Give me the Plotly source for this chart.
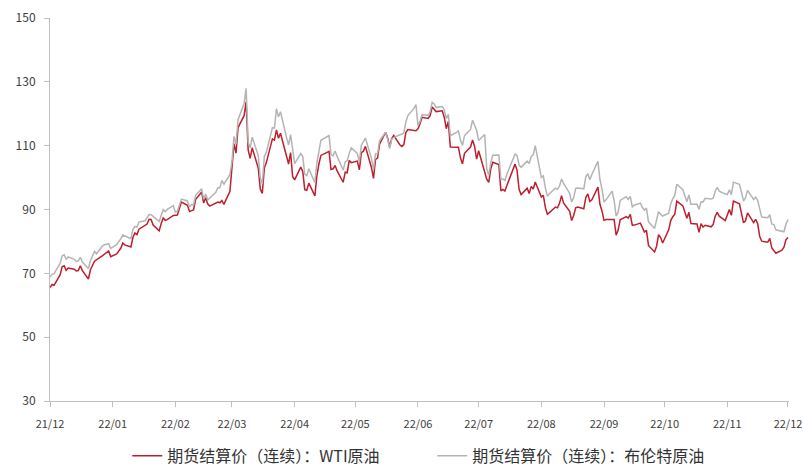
import pandas as pd
import plotly.graph_objects as go

# Business days from 2021-12-01 to 2022-12-01 (None = market closed)
wti_2112 = [65.57, 66.50, 66.26, 69.49, 72.05, 72.36, 70.94, 71.67, 71.29, 70.73, 70.87, 72.38, 70.86,
            68.23, 71.12, 72.76, 73.79, None, 75.57, 75.98, 76.56, 76.99, 75.21]
wti_2201 = [76.08, 76.99, 77.85, 79.46, 78.90, 78.23, 81.22, 82.64, 82.12, 83.82, None, 85.43, 86.96, 86.90,
            85.14, 83.31, 85.60, 87.35, 86.61, 86.82, 88.15]
wti_2202 = [88.20, 88.26, 90.27, 92.31, 91.32, 89.36, 89.66, 89.88, 93.10, 95.46, 92.07, 93.66, 91.76, 91.07,
            None, 92.35, 92.10, 92.81, 91.59, 95.72]
wti_2203 = [103.41, 110.60, 107.67, 115.68, 119.40, 123.70, 108.70, 106.02, 109.33, 103.01, 96.44, 95.04,
            102.98, 104.70, 112.12, 111.76, 114.93, 112.34, 113.90, 105.96, 104.24, 107.82, 100.28]
wti_2204 = [99.27, 103.28, 101.96, 96.23, 96.03, 98.26, 94.29, 100.60, 104.25, 106.95, None, 108.21, 102.56,
            102.75, 103.79, 102.07, 98.54, 101.70, 101.52, 105.36, 104.69]
wti_2205 = [105.17, 102.41, 107.81, 108.26, 109.77, 103.09, 99.76, 105.71, 106.13, 110.49, 114.20, 112.40,
            109.59, 112.21, 113.23, 110.29, 109.77, 110.33, 114.09, 115.07, None, 114.67]
wti_2206 = [115.26, 116.87, 118.87, 118.50, 119.41, 122.11, 121.51, 120.67, 120.93, 118.93, 115.31, 117.59,
            109.56, None, 109.52, 106.19, 104.27, 107.62, 109.57, 111.76, 109.78, 105.76]
wti_2207 = [108.43, None, 99.50, 98.53, 102.73, 104.79, 104.09, 95.84, 96.30, 95.78, 97.59, 102.60, 104.22,
            102.26, 96.35, 94.70, 96.70, 94.98, 97.26, 96.42, 98.62]
wti_2208 = [93.89, 94.42, 90.66, 88.54, 89.01, 90.76, 90.50, 91.93, 94.34, 92.09, 89.41, 86.53, 88.11, 90.50,
            90.77, 90.23, 93.74, 94.89, 92.52, 93.06, 97.01, 91.64, 89.55]
wti_2209 = [86.61, 86.87, None, 86.88, 81.94, 83.54, 86.79, 87.78, 87.31, 88.48, 85.10, 85.11, 85.73, 84.45,
            82.94, 83.49, 78.74, 76.71, 78.50, 82.15, 81.23, 79.49]
wti_2210 = [83.63, 86.52, 87.76, 88.45, 92.64, 91.13, 89.35, 87.27, 89.11, 85.61, 85.46, 82.82, 85.55, 84.51,
            85.05, 84.58, 85.32, 87.91, 89.08, 87.90, 86.53]
wti_2211 = [88.37, 90.00, 88.17, 92.61, 91.79, 88.91, 85.83, 86.47, 88.96, 85.87, 86.92, 85.59, 81.64, 80.08,
            79.73, 80.95, 77.94, None, 76.28, 77.24, 78.20, 80.55]
wti_2212 = [81.22]

brent_2112 = [68.87, 69.67, 69.88, 73.08, 75.44, 75.82, 74.42, 75.15, 74.39, 73.70, 73.88, 75.02, 73.52,
              71.52, 73.98, 75.29, 76.85, 76.14, 78.60, 78.94, 79.23, 79.32, 77.78]
brent_2201 = [78.98, 80.00, 80.80, 81.99, 81.75, 80.87, 83.72, 84.67, 84.47, 86.06, 86.48, 87.51, 88.44, 88.38,
              87.89, 86.27, 88.20, 89.96, 89.34, 90.03, 91.21]
brent_2202 = [89.16, 89.47, 91.11, 93.27, 92.69, 90.78, 91.55, 91.41, 94.44, 96.48, 93.28, 94.81, 92.97, 93.54,
              95.39, 96.84, 96.84, 99.08, 97.93, 100.99]
brent_2203 = [104.97, 112.93, 110.46, 118.11, 123.21, 127.98, 111.14, 109.33, 112.67, 106.90, 99.91, 98.02,
              106.64, 107.93, 115.62, 115.48, 121.60, 119.03, 120.65, 112.48, 110.23, 113.45, 107.91]
brent_2204 = [104.39, 107.53, 106.64, 101.07, 100.58, 102.78, 98.48, 104.64, 108.78, 111.70, None, 113.16,
              107.25, 106.80, 108.33, 106.65, 102.32, 104.99, 105.32, 107.59, 109.34]
brent_2205 = [107.58, 104.97, 110.14, 111.55, 112.39, 105.94, 102.46, 107.51, 107.45, 111.55, 114.24, 111.93,
              109.11, 112.04, 112.55, 113.42, 113.56, 114.03, 117.40, 119.43, 121.67, 122.84]
brent_2206 = [116.29, 117.61, 119.72, 119.51, 120.57, 123.58, 123.07, 122.01, 122.27, 121.17, 118.51, 119.81,
              113.12, 114.13, 114.65, 111.74, 110.05, 113.12, 115.09, 117.98, 116.26, 114.81]
brent_2207 = [111.63, 113.50, 102.77, 100.69, 104.65, 107.02, 107.10, 99.49, 99.57, 99.10, 101.16, 106.27,
              107.35, 106.92, 103.86, 103.20, 105.15, 104.40, 106.62, 107.14, 110.01]
brent_2208 = [100.03, 100.54, 96.78, 94.12, 94.92, 96.65, 96.31, 97.40, 99.60, 98.15, 95.10, 92.34, 93.65,
              96.59, 96.72, 96.48, 100.22, 101.22, 99.34, 100.99, 105.09, 99.31, 96.49]
brent_2209 = [92.36, 93.02, 95.74, 92.83, 88.00, 89.15, 92.84, 94.00, 93.17, 94.10, 90.84, 91.35, 92.00, 90.62,
              89.83, 90.46, 86.15, 84.06, 86.27, 89.32, 88.49, 87.96]
brent_2210 = [88.86, 91.80, 93.37, 94.42, 97.92, 96.19, 94.29, 92.45, 94.57, 91.63, 91.62, 90.03, 92.41, 92.38,
              93.50, 93.26, 93.52, 95.69, 96.96, 95.77, 94.83]
brent_2211 = [94.65, 96.16, 94.67, 98.57, 97.92, 95.36, 92.65, 93.67, 95.99, 93.14, 93.86, 92.86, 89.78, 87.62,
              87.45, 88.36, 85.41, 85.34, 83.63, 83.19, 83.03, 85.43]
brent_2212 = [86.88]

tick_dates = ["2021-12-01", "2022-01-01", "2022-02-01", "2022-03-01", "2022-04-01", "2022-05-01",
              "2022-06-01", "2022-07-01", "2022-08-01", "2022-09-01", "2022-10-01", "2022-11-01",
              "2022-12-01"]
tick_labels = ["21/12", "22/01", "22/02", "22/03", "22/04", "22/05", "22/06", "22/07", "22/08",
               "22/09", "22/10", "22/11", "22/12"]

name_wti = "期货结算价（连续）：WTI原油"
name_brent = "期货结算价（连续）：布伦特原油"

wti = (wti_2112 + wti_2201 + wti_2202 + wti_2203 + wti_2204 + wti_2205 + wti_2206 + wti_2207 +
       wti_2208 + wti_2209 + wti_2210 + wti_2211 + wti_2212)
brent = (brent_2112 + brent_2201 + brent_2202 + brent_2203 + brent_2204 + brent_2205 + brent_2206 +
         brent_2207 + brent_2208 + brent_2209 + brent_2210 + brent_2211 + brent_2212)
dates = list(pd.bdate_range("2021-12-01", "2022-12-01"))
n = min(len(dates), len(wti), len(brent))
dates, wti, brent = dates[:n], wti[:n], brent[:n]

FONT = "Noto Sans CJK SC"
AXIS = "#BFBFBF"

fig = go.Figure()
fig.add_trace(go.Scatter(x=dates, y=wti, mode="lines", name=name_wti, connectgaps=True,
                         line=dict(color="#BE1E2D", width=1.5)))
fig.add_trace(go.Scatter(x=dates, y=brent, mode="lines", name=name_brent, connectgaps=True,
                         line=dict(color="#B4B4B4", width=1.5)))

fig.update_layout(
    width=803, height=469,
    margin=dict(l=50, r=14, t=18, b=68, autoexpand=False),
    paper_bgcolor="white", plot_bgcolor="white",
    font=dict(family=FONT, size=12, color="#333333"),
    showlegend=True,
    legend=dict(orientation="h", xref="container", yref="container", x=0.1585, xanchor="left",
                y=0.028, yanchor="middle", entrywidth=260,
                font=dict(family=FONT, size=16, color="#333333"), itemwidth=30,
                bgcolor="rgba(0,0,0,0)"),
    xaxis=dict(type="date", range=["2021-12-01", "2022-12-01 12:00"], tickvals=tick_dates,
               ticktext=tick_labels, showgrid=False, zeroline=False, showline=True,
               linecolor=AXIS, linewidth=1, ticks="outside", ticklen=5, tickcolor=AXIS,
               tickfont=dict(family=FONT, size=11, color="#404040"), ticklabelstandoff=8,
               ticklabeloverflow="allow", automargin=False),
    yaxis=dict(range=[30, 150], dtick=20, tick0=30, showgrid=False, zeroline=False,
               showline=True, linecolor=AXIS, linewidth=1, ticks="outside", ticklen=5,
               tickcolor=AXIS, tickfont=dict(family=FONT, size=12, color="#404040"),
               ticklabelstandoff=6, automargin=False),
)

fig.write_html("out.html", config={"displayModeBar": False},
               post_script="document.body.style.margin='0';")
